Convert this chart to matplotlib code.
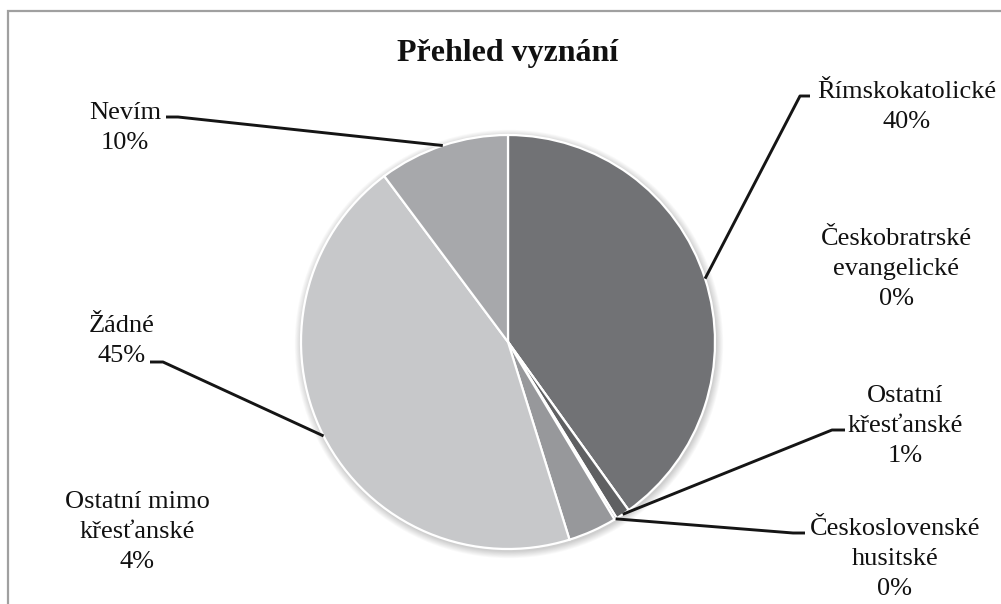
import matplotlib
matplotlib.use("Agg")
import matplotlib.pyplot as plt
from matplotlib.patches import Rectangle, Circle
import numpy as np

# ---- data ----
categories = ["Římskokatolické", "Českobratrské evangelické", "Ostatní křesťanské",
              "Československé husitské", "Ostatní mimo křesťanské", "Žádné", "Nevím"]
values = [40.1, 0.0, 1.1, 0.2, 3.8, 44.6, 10.2]
label_lines = [["Římskokatolické"], ["Českobratrské", "evangelické"], ["Ostatní", "křesťanské"],
               ["Československé", "husitské"], ["Ostatní mimo", "křesťanské"], ["Žádné"], ["Nevím"]]
title = "Přehled vyznání"

colors = ["#717275", "#8a8b8e", "#5f6062", "#838487", "#97989b", "#c7c8ca", "#a7a8ab"]

W, H = 1001, 604
def Y(y):
    return H - y

fig = plt.figure(figsize=(W / 100, H / 100), dpi=100)
ax = fig.add_axes([0, 0, 1, 1])

cx, cy, R = 508, 342, 207

# soft shadow
for k in range(1, 9):
    ax.add_patch(Circle((cx + 1, Y(cy) - 2), R + k * 0.9, facecolor="black",
                        alpha=0.025, edgecolor="none", zorder=0))

wedges, _ = ax.pie(values, colors=colors, startangle=90, counterclock=False,
                   center=(cx, Y(cy)), radius=R,
                   wedgeprops=dict(edgecolor="white", linewidth=1.6))
for w in wedges:
    w.set_zorder(2)

ax.set_xlim(0, W)
ax.set_ylim(0, H)
ax.set_aspect("equal")
ax.axis("off")

font = "Liberation Serif"
fs = 19
step = 30

# label placements: (center x, first baseline y px, leader elbow points or None)
placements = [
    (907, 98, [(800, 96), (810, 96)]),
    (896, 245, None),
    (905, 402, [(832, 430), (845, 430)]),
    (895, 535, [(793, 533), (805, 533)]),
    (137, 508, None),
    (122, 332, [(163, 362), (150, 362)]),
    (125, 119, [(178, 117), (166, 117)]),
]

for w, v, lines, (tx, ty, elbow) in zip(wedges, values, label_lines, placements):
    all_lines = lines + [f"{round(v)}%"]
    for i, ln in enumerate(all_lines):
        ax.text(tx, Y(ty + i * step), ln, family=font, fontsize=fs, ha="center",
                va="baseline", color="#111111", zorder=5)
    if elbow is not None:
        mid = np.deg2rad((w.theta1 + w.theta2) / 2)
        sx = cx + R * np.cos(mid)
        sy = Y(cy) + R * np.sin(mid)
        xs = [sx] + [p[0] for p in elbow]
        ys = [sy] + [Y(p[1]) for p in elbow]
        ax.plot(xs, ys, color="#151515", lw=2.1, zorder=4, solid_capstyle="butt")

ax.text(508, Y(61), title, family=font, fontsize=23, fontweight="bold",
        ha="center", va="baseline", color="#111111")

# outer frame
ax.add_patch(Rectangle((8, -20), W + 40, Y(11) + 20, fill=False,
                       edgecolor="#a0a0a0", lw=1.6, clip_on=False, zorder=6))

fig.savefig("out.png", dpi=100)
